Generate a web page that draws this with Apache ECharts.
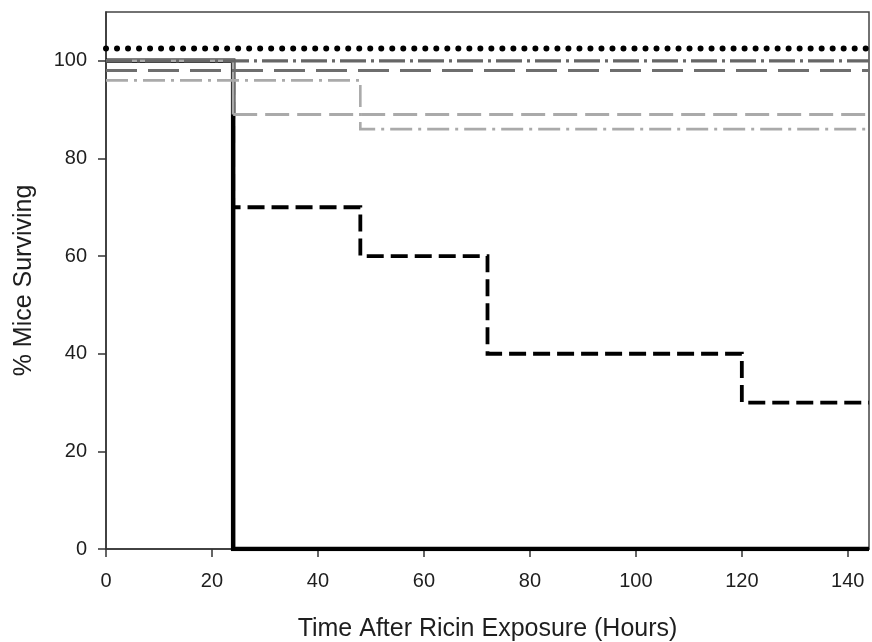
<!DOCTYPE html>
<html>
<head>
<meta charset="utf-8">
<title>Survival after ricin exposure</title>
<script src="https://cdn.jsdelivr.net/npm/echarts@6/dist/echarts.min.js"></script>
<style>
  html, body { margin: 0; padding: 0; background: #fff; }
  #chart { width: 872px; height: 642px; }
</style>
</head>
<body>
<div id="chart"></div>
<script>
// Tick positions
const xTicks = [0, 20, 40, 60, 80, 100, 120, 140];
const yTicks = [0, 20, 40, 60, 80, 100];

// Kaplan-Meier style step curves: event times (hours) and % surviving after each time
const solidBlackTimes = [0, 24, 144];
const solidBlackValues = [100, 0, 0];

const dashedBlackTimes = [0, 24, 48, 72, 120, 144];
const dashedBlackValues = [100, 70, 60, 40, 30, 30];

const dottedBlackTimes = [0, 144];
const dottedBlackValues = [102.5, 102.5];

const dashDotDarkTimes = [0, 144];
const dashDotDarkValues = [100, 100];

const longDashDarkTimes = [0, 144];
const longDashDarkValues = [98, 98];

const solidLightTimes = [0, 24];
const solidLightValues = [100, 89];

const dashedLightTimes = [24, 144];
const dashedLightValues = [89, 89];

const dashDotLightTimes = [0, 48, 144];
const dashDotLightValues = [96, 86, 86];

function pairs(times, values) {
  return times.map((t, i) => [t, values[i]]);
}

function stepSeries(times, values, color, width, dash, cap, z) {
  return {
    type: 'line',
    step: 'end',
    data: pairs(times, values),
    showSymbol: false,
    symbol: 'none',
    silent: true,
    z: z,
    lineStyle: {
      color: color,
      width: width,
      type: dash,
      cap: cap || 'butt',
      join: 'miter'
    }
  };
}

const chart = echarts.init(document.getElementById('chart'), null, { renderer: 'canvas' });

chart.setOption({
  animation: false,
  backgroundColor: '#ffffff',
  grid: {
    left: 106,
    right: 3,
    top: 12,
    bottom: 93,
    outerBoundsMode: 'none',
    containLabel: false,
    show: true,
    borderColor: '#444',
    borderWidth: 1.5,
    backgroundColor: 'transparent'
  },
  xAxis: {
    type: 'value',
    min: 0,
    max: 144,
    interval: 20,
    name: 'Time After Ricin Exposure (Hours)',
    nameLocation: 'middle',
    nameGap: 68,
    nameTextStyle: { fontFamily: 'Liberation Sans', fontSize: 25, color: '#1e1e1e' },
    axisLine: { show: true, onZero: false, lineStyle: { color: '#333', width: 1.5 } },
    axisTick: { show: true, inside: false, length: 8, customValues: xTicks, lineStyle: { color: '#333', width: 1.5 } },
    axisLabel: { customValues: xTicks, margin: 22, fontFamily: 'Liberation Sans', fontSize: 20, color: '#1e1e1e' },
    splitLine: { show: false }
  },
  yAxis: {
    type: 'value',
    min: 0,
    max: 110,
    interval: 20,
    name: '% Mice Surviving',
    nameLocation: 'middle',
    nameRotate: 90,
    nameGap: 69,
    nameTextStyle: { fontFamily: 'Liberation Sans', fontSize: 25, color: '#1e1e1e' },
    axisLine: { show: true, onZero: false, lineStyle: { color: '#333', width: 1.5 } },
    axisTick: { show: true, inside: false, length: 8, customValues: yTicks, lineStyle: { color: '#333', width: 1.5 } },
    axisLabel: { customValues: yTicks, margin: 19, fontFamily: 'Liberation Sans', fontSize: 20, color: '#1e1e1e' },
    splitLine: { show: false }
  },
  series: [
    stepSeries(solidBlackTimes, solidBlackValues, '#000000', 4.5, 'solid', 'butt', 1),
    stepSeries(dashedBlackTimes, dashedBlackValues, '#000000', 3.8, [17, 7], 'butt', 2),
    stepSeries(solidLightTimes, solidLightValues, '#aaaaaa', 3, 'solid', 'butt', 3),
    stepSeries(dashedLightTimes, dashedLightValues, '#aaaaaa', 3, [24, 8], 'butt', 4),
    stepSeries(dashDotLightTimes, dashDotLightValues, '#aaaaaa', 2.6, [22, 6, 3, 6], 'butt', 5),
    stepSeries(longDashDarkTimes, longDashDarkValues, '#6e6e6e', 3, [31, 11], 'butt', 6),
    stepSeries(dashDotDarkTimes, dashDotDarkValues, '#666666', 3.2, [26, 5, 3, 5], 'butt', 7),
    stepSeries(dottedBlackTimes, dottedBlackValues, '#000000', 6, [0.01, 11], 'round', 8)
  ]
});
</script>
</body>
</html>
